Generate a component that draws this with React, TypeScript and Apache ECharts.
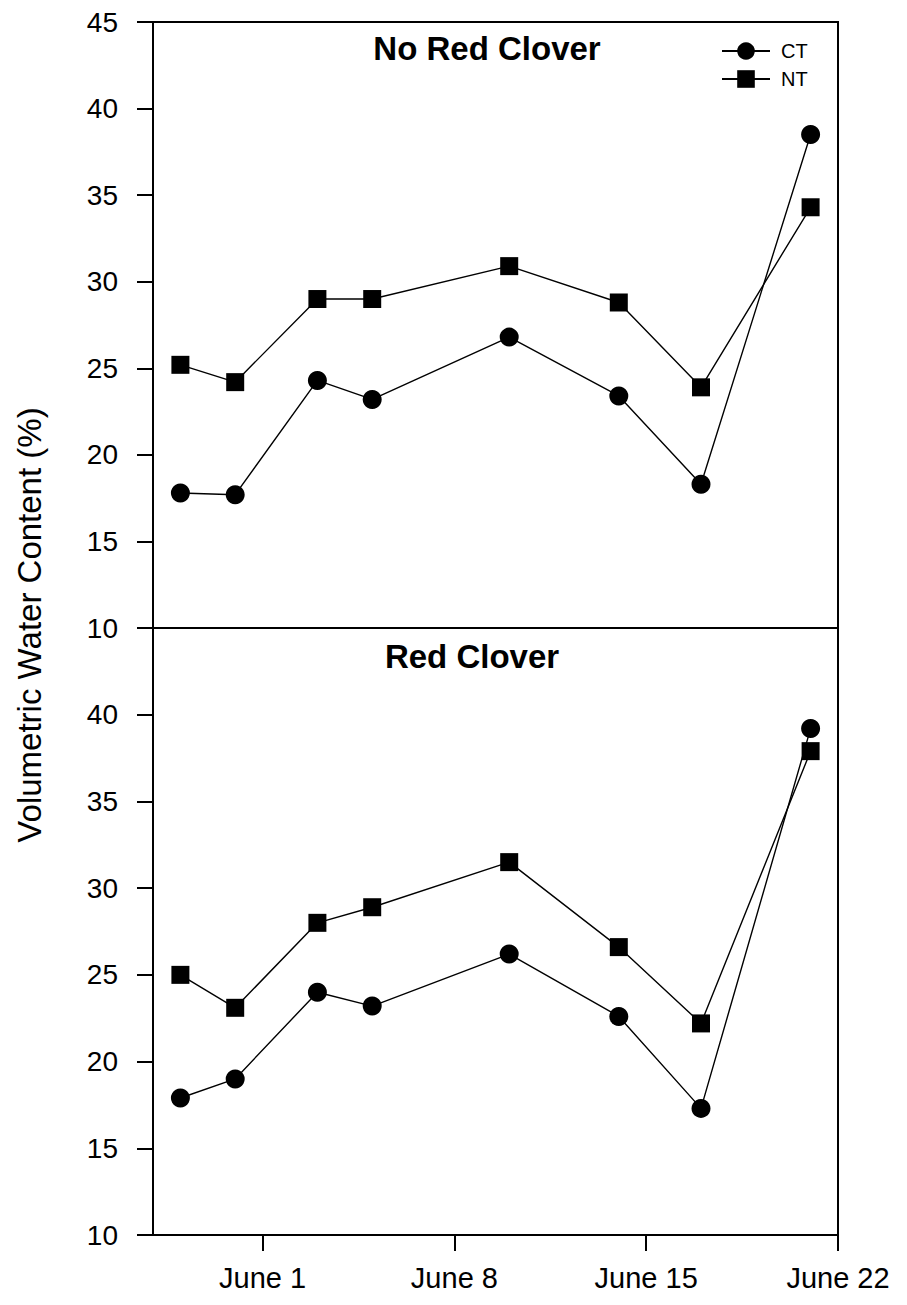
import React, { useEffect, useRef } from "react";
import * as echarts from "echarts";

// Days relative to June 1 (June 1 = 0)
const sampleDays = [-3, -1, 2, 4, 9, 13, 16, 20];
const xTickDays = [0, 7, 14, 21];
const xTickLabels = ["June 1", "June 8", "June 15", "June 22"];

// No Red Clover panel
const noCloverCT = [17.8, 17.7, 24.3, 23.2, 26.8, 23.4, 18.3, 38.5];
const noCloverNT = [25.2, 24.2, 29.0, 29.0, 30.9, 28.8, 23.9, 34.3];

// Red Clover panel
const cloverCT = [17.9, 19.0, 24.0, 23.2, 26.2, 22.6, 17.3, 39.2];
const cloverNT = [25.0, 23.1, 28.0, 28.9, 31.5, 26.6, 22.2, 37.9];

const yMin = 10;
const yMax = 45;
const yStep = 5;

const panelTitles = ["No Red Clover", "Red Clover"];
const yAxisTitle = "Volumetric Water Content (%)";

const FONT = "'Liberation Sans', Arial, Helvetica, sans-serif";

function pairs(values: number[]) {
  return values.map((v, i) => [sampleDays[i], v]);
}

export default function App() {
  const ref = useRef<HTMLDivElement>(null);

  useEffect(() => {
    document.body.style.margin = "0";
    if (!ref.current) return;
    const chart = echarts.init(ref.current, null, { renderer: "svg" });

    const yAxisBase = (gridIndex: number, showMax: boolean) => ({
      type: "value",
      gridIndex,
      min: yMin,
      max: yMax,
      interval: yStep,
      splitLine: { show: false },
      axisLine: { show: true, onZero: false, lineStyle: { color: "#000", width: 2 } },
      axisTick: { show: true, length: 16, lineStyle: { color: "#000", width: 2 } },
      axisLabel: {
        show: true,
        showMaxLabel: showMax,
        showMinLabel: true,
        margin: 35,
        color: "#000",
        fontSize: 28,
        fontFamily: FONT,
      },
    });

    const xAxisBase = (gridIndex: number, withLabels: boolean) => ({
      type: "value",
      gridIndex,
      min: -4,
      max: 21,
      splitLine: { show: false },
      axisLine: { show: true, onZero: false, lineStyle: { color: "#000", width: 2 } },
      axisTick: withLabels
        ? { show: true, length: 16, customValues: xTickDays, lineStyle: { color: "#000", width: 2 } }
        : { show: false },
      axisLabel: withLabels
        ? {
            show: true,
            customValues: xTickDays,
            margin: 28,
            color: "#000",
            fontSize: 29,
            fontFamily: FONT,
            formatter: (v: number) => {
              const i = xTickDays.indexOf(Math.round(v));
              return i >= 0 ? xTickLabels[i] : "";
            },
          }
        : { show: false },
    });

    const lineSeries = (name: string, values: number[], idx: number, symbol: string, size: number) => ({
      name,
      type: "line",
      xAxisIndex: idx,
      yAxisIndex: idx,
      data: pairs(values),
      symbol,
      symbolSize: size,
      showAllSymbol: true,
      lineStyle: { color: "#000", width: 1.4 },
      itemStyle: { color: "#000", borderWidth: 0 },
      emphasis: { disabled: true },
    });

    chart.setOption({
      animation: false,
      backgroundColor: "#fff",
      grid: [
        { left: 153, top: 22, width: 685, height: 606, show: true, borderColor: "#000", borderWidth: 2, backgroundColor: "transparent" },
        { left: 153, top: 628, width: 685, height: 607, show: true, borderColor: "#000", borderWidth: 2, backgroundColor: "transparent" },
      ],
      xAxis: [xAxisBase(0, false), xAxisBase(1, true)],
      yAxis: [yAxisBase(0, true), yAxisBase(1, false)],
      legend: {
        data: ["CT", "NT"],
        orient: "vertical",
        left: 716,
        top: 36,
        itemWidth: 48,
        itemHeight: 22,
        itemGap: 8,
        selectedMode: false,
        textStyle: { color: "#000", fontSize: 20, fontFamily: FONT, padding: [0, 0, 0, 6] },
      },
      graphic: [
        {
          type: "text",
          x: 487,
          y: 48,
          style: {
            text: panelTitles[0],
            fontSize: 33,
            fontWeight: "bold",
            fontFamily: FONT,
            fill: "#000",
            textAlign: "center",
            textVerticalAlign: "middle",
          },
        },
        {
          type: "text",
          x: 472,
          y: 656,
          style: {
            text: panelTitles[1],
            fontSize: 33,
            fontWeight: "bold",
            fontFamily: FONT,
            fill: "#000",
            textAlign: "center",
            textVerticalAlign: "middle",
          },
        },
        {
          type: "text",
          x: 29,
          y: 625,
          rotation: Math.PI / 2,
          style: {
            text: yAxisTitle,
            fontSize: 33,
            fontFamily: FONT,
            fill: "#000",
            textAlign: "center",
            textVerticalAlign: "middle",
          },
        },
      ],
      series: [
        lineSeries("CT", noCloverCT, 0, "circle", 19),
        lineSeries("NT", noCloverNT, 0, "rect", 18),
        lineSeries("CT", cloverCT, 1, "circle", 19),
        lineSeries("NT", cloverNT, 1, "rect", 18),
      ],
    });

    return () => chart.dispose();
  }, []);

  return <div ref={ref} style={{ width: 907, height: 1305 }} />;
}
